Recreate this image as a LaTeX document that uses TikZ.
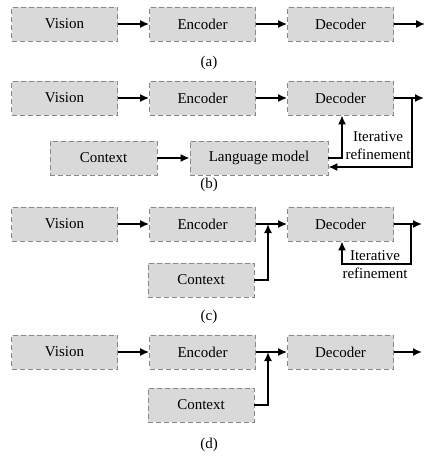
\documentclass[tikz,border=0pt]{standalone}
\usepackage{fontspec}
\setmainfont{Liberation Serif}
\usetikzlibrary{arrows.meta}
\definecolor{boxgray}{HTML}{D9D9D9}
\definecolor{edgegray}{HTML}{888888}

\begin{document}
\begin{tikzpicture}[x=1pt,y=-1pt,>={Latex[length=9pt,width=8pt]},node distance=138pt,
  every node/.style={font=\fontsize{15}{18}\selectfont},
  block/.style={draw=edgegray,fill=boxgray,line width=0.8pt,dash pattern=on 5pt off 3pt,
    minimum width=106pt,minimum height=34pt,inner sep=0pt},
  flow/.style={->,line width=1.6pt}]
  \useasboundingbox (0,0) rectangle (436,460);

  % (a)
  \node[block] (va) at (64.5,24) {Vision};
  \node[block] (ea) [right of=va] {Encoder};
  \node[block] (da) [right of=ea] {Decoder};
  \coordinate (oa) at (425,24);
  \draw[flow] (va) -- (ea);
  \draw[flow] (ea) -- (da);
  \draw[flow] (da) -- (oa);
  \node (la) at (209,63) {(a)};

  % (b)
  \node[block] (vb) at (64.5,98) {Vision};
  \node[block] (eb) [right of=vb] {Encoder};
  \node[block] (db) [right of=eb] {Decoder};
  \node[block,minimum width=107pt] (cb) at (103.5,158) {Context};
  \node[block,minimum width=138pt] (lm) at (259,158) {Language model};
  \coordinate (ob) at (424,98);
  \coordinate (fb) at (412,98);
  \draw[flow] (vb) -- (eb);
  \draw[flow] (eb) -- (db);
  \draw[flow] (db) -- (ob);
  \draw[flow] (cb) -- (lm);
  \draw[flow] (lm.east) -| ([xshift=1.5pt]db.south);
  \draw[flow] (fb) |- ([yshift=-9pt]lm.east);
  \node[align=center] (itb) at (378,145.5) {Iterative\\refinement};
  \node (lb) at (209,185) {(b)};

  % (c)
  \node[block] (vc) at (64.5,224) {Vision};
  \node[block] (ec) [right of=vc] {Encoder};
  \node[block] (dc) [right of=ec] {Decoder};
  \node[block] (cc) at (201,280) {Context};
  \coordinate (jc) at (268,224);
  \coordinate (oc) at (422,224);
  \coordinate (fc) at (411,224);
  \draw[flow] (vc) -- (ec);
  \draw[flow] (ec) -- (dc);
  \draw[flow] (dc) -- (oc);
  \draw[flow] (cc.east) -| (jc);
  \draw[flow] (fc) -- ++(0,40) -| ([xshift=1.5pt]dc.south);
  \node[align=center] (itc) at (375,264.5) {Iterative\\refinement};
  \node (lc) at (209,317) {(c)};

  % (d)
  \node[block] (vd) at (64.5,352) {Vision};
  \node[block] (ed) [right of=vd] {Encoder};
  \node[block] (dd) [right of=ed] {Decoder};
  \node[block] (cd) at (201,405) {Context};
  \coordinate (jd) at (268,352);
  \coordinate (od) at (422,352);
  \draw[flow] (vd) -- (ed);
  \draw[flow] (ed) -- (dd);
  \draw[flow] (dd) -- (od);
  \draw[flow] (cd.east) -| (jd);
  \node (ld) at (209,445) {(d)};
\end{tikzpicture}
\end{document}
